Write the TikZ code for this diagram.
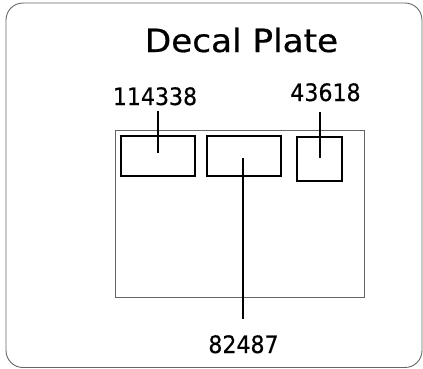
\documentclass[tikz,border=0pt]{standalone}
\usepackage{fontspec}
\setmainfont{DejaVu Sans}
\newfontfamily\numfont[FakeStretch=0.92,FakeBold=0.4]{DejaVu Sans}
\newfontfamily\ttlfont[FakeStretch=1.07,FakeBold=0.6]{DejaVu Sans}
\begin{document}
\begin{tikzpicture}[x=1pt,y=-1pt,
  box/.style={draw=black, line width=1.7pt, inner sep=0pt},
  plate/.style={draw=black!60, line width=0.9pt, inner sep=0pt},
  lead/.style={draw=black, line width=1.7pt},
  lbl/.style={inner sep=0pt, anchor=base, font=\numfont\fontsize{24}{24}\selectfont},
  ttl/.style={inner sep=0pt, anchor=base, font=\ttlfont\fontsize{32}{32}\selectfont}]
\useasboundingbox (0,0) rectangle (423,368);
\clip (0,0) rectangle (423,368);
\draw[black!60, line width=0.9pt, rounded corners=17pt] (6,3) rectangle (422,367.5);
\node[ttl] (title) at (241.5,52) {Decal Plate};
\node[plate, minimum width=249pt, minimum height=167pt] (plate) at (239.5,213.5) {};
\node[box, minimum width=74pt, minimum height=40pt] (b1) at (158,156) {};
\node[box, minimum width=74pt, minimum height=40pt] (b2) at (244,156) {};
\node[box, minimum width=45pt, minimum height=44pt] (b3) at (319.5,159) {};
\node[lbl] (l1) at (155,105) {114338};
\node[lbl] (l3) at (325.5,101) {43618};
\node[lbl] (l2) at (243.5,353) {82487};
\coordinate (e1) at (158,153);
\coordinate (e2) at (243,158);
\coordinate (e3) at (320,158);
\draw[lead] (e1) -- (e1 |- 0,111);
\draw[lead] (e3) -- (e3 |- 0,112);
\draw[lead] (e2) -- (e2 |- 0,319);
\end{tikzpicture}
\end{document}
